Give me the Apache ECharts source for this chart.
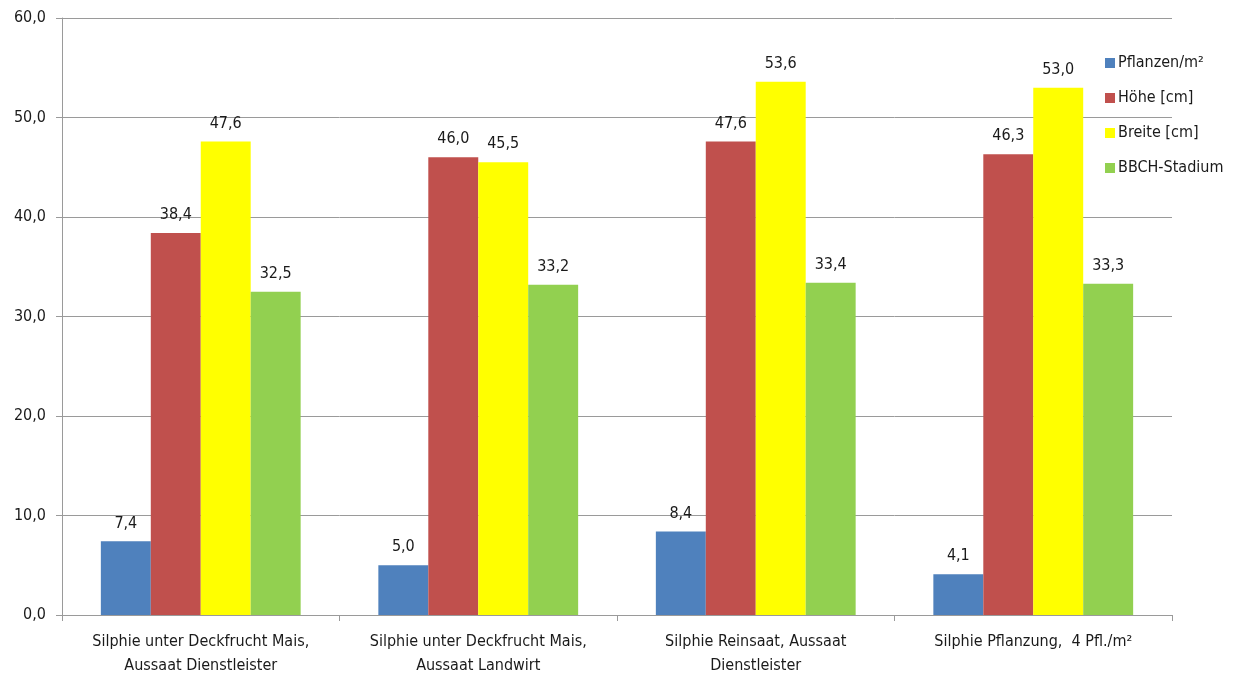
<!DOCTYPE html>
<html>
<head>
<meta charset="utf-8">
<script src="https://cdn.jsdelivr.net/npm/echarts@6/dist/echarts.min.js"></script>
<style>
  html, body { margin: 0; padding: 0; background: #fff; }
  #chart { width: 1236px; height: 678px; }
</style>
</head>
<body>
<div id="chart"></div>
<script>
// Variants (x axis), line breaks as shown below each group
const categories = [
  'Silphie unter Deckfrucht Mais,\nAussaat Dienstleister',
  'Silphie unter Deckfrucht Mais,\nAussaat Landwirt',
  'Silphie Reinsaat, Aussaat\nDienstleister',
  'Silphie Pflanzung,  4 Pfl./m²'
];
const seriesNames = ['Pflanzen/m²', 'Höhe [cm]', 'Breite [cm]', 'BBCH-Stadium'];
const pflanzen = [7.4, 5.0, 8.4, 4.1];
const hoehe = [38.4, 46.0, 47.6, 46.3];
const breite = [47.6, 45.5, 53.6, 53.0];
const bbch = [32.5, 33.2, 33.4, 33.3];
const yTicks = { min: 0, max: 60, interval: 10 };

const colors = ['#4F81BD', '#C0504D', '#FFFF00', '#92D050'];
const FONT = '"Liberation Sans Narrow", "DejaVu Sans Condensed", "Open Sans", sans-serif';
const fmt = v => v.toFixed(1).replace('.', ',');

const chart = echarts.init(document.getElementById('chart'));
const values = [pflanzen, hoehe, breite, bbch];

chart.setOption({
  animation: false,
  textStyle: { fontFamily: FONT },
  grid: { left: 62, right: 64, top: 18, bottom: 60, containLabel: false },
  legend: {
    orient: 'vertical',
    left: 1100,
    top: 50,
    itemWidth: 10,
    itemHeight: 10,
    itemGap: 19,
    icon: 'rect',
    textStyle: { fontFamily: FONT, fontSize: 16, color: '#1a1a1a', padding: [0, 0, 0, -2] },
    data: seriesNames
  },
  xAxis: {
    type: 'category',
    data: categories,
    axisLine: { lineStyle: { color: '#9a9a9a', width: 1 } },
    axisTick: { show: true, length: 6, lineStyle: { color: '#9a9a9a' } },
    axisLabel: { fontFamily: FONT, fontSize: 16, color: '#1a1a1a', margin: 15, lineHeight: 24, interval: 0 }
  },
  yAxis: {
    type: 'value',
    min: yTicks.min,
    max: yTicks.max,
    interval: yTicks.interval,
    axisLine: { show: true, lineStyle: { color: '#9a9a9a' } },
    axisTick: { show: true, length: 6, lineStyle: { color: '#9a9a9a' } },
    splitLine: { lineStyle: { color: '#9a9a9a', width: 1 } },
    axisLabel: { fontFamily: FONT, fontSize: 16, color: '#1a1a1a', margin: 16, formatter: v => fmt(v) }
  },
  series: seriesNames.map((name, i) => ({
    name,
    type: 'bar',
    data: values[i],
    barGap: '0%',
    barCategoryGap: '28%',
    itemStyle: { color: colors[i] },
    label: {
      show: true,
      position: 'top',
      distance: 10,
      fontFamily: FONT,
      fontSize: 16,
      color: '#1a1a1a',
      formatter: p => fmt(p.value)
    }
  }))
});
</script>
</body>
</html>
